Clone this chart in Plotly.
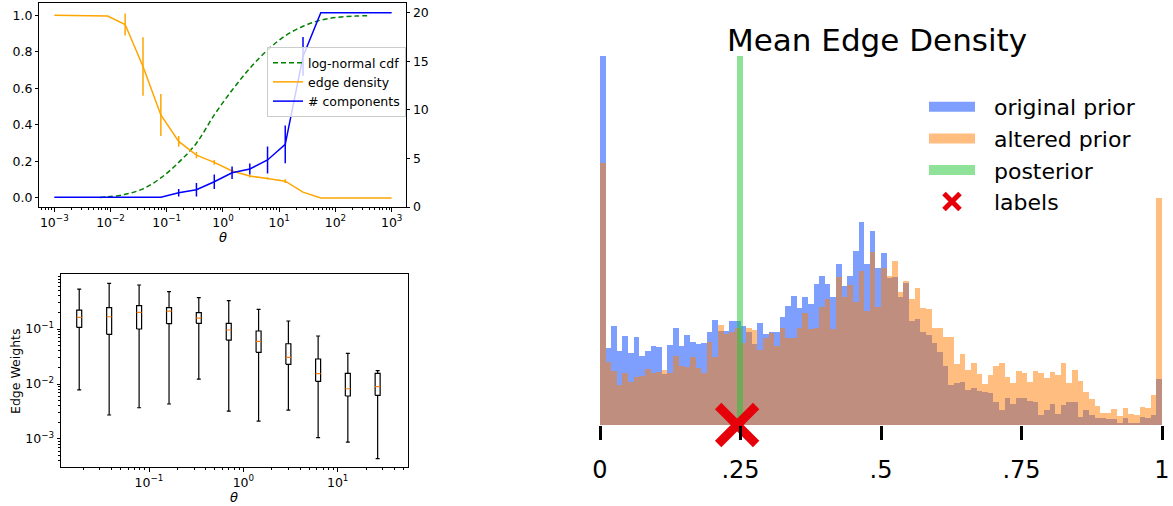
import plotly.graph_objects as go

# ---------------- top-left panel data ----------------
theta = [0.001, 0.0043, 0.0089, 0.0182, 0.0378, 0.0785, 0.163, 0.337, 0.70, 1.45, 3.0, 6.2, 12.8, 26.5, 54.9, 1000]
edge_density = [1.0, 1.0, 0.996, 0.95, 0.72, 0.455, 0.31, 0.235, 0.195, 0.148, 0.12, 0.107, 0.092, 0.032, 0.0, 0.0]
edge_density_err = [0, 0, 0, 0.06, 0.16, 0.115, 0.03, 0.017, 0.013, 0.01, 0.008, 0.006, 0.01, 0, 0, 0]
n_components = [1, 1, 1, 1, 1, 1, 1.47, 1.78, 2.6, 3.53, 3.91, 4.84, 6.45, 15.5, 20, 20]
n_components_err = [0, 0, 0, 0, 0, 0, 0.38, 0.69, 0.74, 0.65, 0.57, 1.4, 1.95, 2.0, 0, 0]
cdf_theta = [0.0065, 0.0089, 0.0182, 0.0378, 0.0785, 0.163, 0.337, 0.70, 1.45, 3.0, 6.2, 12.8, 26.5, 54.9, 113, 230, 420]
cdf_values = [0.003, 0.006, 0.02, 0.05, 0.11, 0.195, 0.30, 0.455, 0.59, 0.71, 0.81, 0.888, 0.94, 0.974, 0.99, 0.996, 0.998]

# ---------------- bottom-left panel data ----------------
box_theta = [0.0182, 0.0378, 0.0785, 0.163, 0.337, 0.70, 1.45, 3.0, 6.2, 12.8, 26.5]
w_low = [0.0078, 0.00273, 0.0037, 0.00433, 0.0123, 0.0032, 0.00212, 0.00336, 0.00106, 0.00088, 0.00044]
w_q1 = [0.107, 0.080, 0.100, 0.125, 0.127, 0.063, 0.0377, 0.0228, 0.0112, 0.00605, 0.00622]
w_med = [0.163, 0.167, 0.201, 0.212, 0.158, 0.096, 0.0597, 0.0305, 0.0154, 0.0082, 0.00896]
w_q3 = [0.221, 0.244, 0.266, 0.244, 0.198, 0.127, 0.092, 0.054, 0.0285, 0.0156, 0.0156]
w_high = [0.533, 0.676, 0.631, 0.477, 0.371, 0.327, 0.228, 0.14, 0.0746, 0.0361, 0.0175]

# ---------------- right panel data (100 bins on [0,1]) ----------------
n_bins = 100
bin_centers = [(i + 0.5) / n_bins for i in range(n_bins)]
original_prior = [369, 76.7, 99, 74.3, 89.5, 72.2, 88.3, 69, 74.3, 79,
                  77.7, 50.7, 80, 97, 79.3, 89.7, 83.3, 81, 81.7, 93.3,
                  105, 94, 94, 104.3, 104, 99, 92.7, 80.7, 102.3, 91,
                  92.7, 92.7, 108.3, 119.3, 129.3, 117.3, 128.3, 120.7, 141, 148.7,
                  141, 128.3, 160.7, 139, 148.7, 174.3, 202.7, 160.7, 194, 157.3,
                  171.7, 147, 147.7, 128.3, 141.7, 104, 105.7, 93.3, 90, 81.7,
                  72.7, 59, 40, 42.3, 43.3, 35, 36.7, 34.3, 33.3, 32.3,
                  22.7, 15, 26.7, 20.7, 26.7, 27, 24.3, 23, 10, 15,
                  21, 11, 20.3, 22.7, 22.7, 8.3, 15, 10, 6.7, 6.7,
                  5.7, 5.7, 2.3, 6.7, 1.7, 1.7, 7.7, 6.7, 10, 45.7]
altered_prior = [262, 63.3, 54, 40, 52.5, 43.3, 48, 49.3, 55.7, 52.3,
                 53, 55, 51.7, 69.3, 59.3, 58.3, 68.3, 57.3, 52.3, 83.3,
                 67.7, 100, 90.7, 92.7, 97, 81.7, 96.7, 95, 75, 87.3,
                 91.7, 79, 97.3, 87.3, 87.3, 97.3, 111.7, 95.7, 97.3, 117.7,
                 126, 95.7, 147.7, 128.3, 140, 123.3, 154, 114, 173.3, 117.7,
                 157.3, 149.5, 164, 133.3, 144.3, 126, 136.7, 116.7, 115.7, 96.7,
                 96.7, 87.7, 87.7, 60.7, 71, 55, 62.3, 50.7, 41, 50,
                 59, 61.7, 48.3, 41.7, 54, 52.5, 42.7, 54, 52.3, 46.7,
                 53, 50, 61.7, 42.3, 55, 44.3, 33.3, 25.7, 19, 11.7,
                 11.7, 15.7, 9, 17.3, 10.7, 10, 18.3, 17.3, 30, 227]
posterior_x = [0.249]
posterior_y = [369]
label_x = [0.244]
label_y = [0]

# tick labels
top_x_ticks = [0.001, 0.01, 0.1, 1, 10, 100, 1000]
top_x_text = ["10<sup>−3</sup>", "10<sup>−2</sup>", "10<sup>−1</sup>", "10<sup>0</sup>",
              "10<sup>1</sup>", "10<sup>2</sup>", "10<sup>3</sup>"]
top_y_ticks = [0.0, 0.2, 0.4, 0.6, 0.8, 1.0]
top_y_text = ["0.0", "0.2", "0.4", "0.6", "0.8", "1.0"]
top_y2_ticks = [0, 5, 10, 15, 20]
bot_x_ticks = [0.1, 1, 10]
bot_x_text = ["10<sup>−1</sup>", "10<sup>0</sup>", "10<sup>1</sup>"]
bot_y_ticks = [0.001, 0.01, 0.1]
bot_y_text = ["10<sup>−3</sup>", "10<sup>−2</sup>", "10<sup>−1</sup>"]
right_x_ticks = [0, 0.25, 0.5, 0.75, 1]
right_x_text = ["0", ".25", ".5", ".75", "1"]

FONT = "DejaVu Sans"
W, H = 1173, 506
BLUE_A = "rgba(0,64,255,0.5)"
ORANGE_A = "rgba(255,125,0,0.5)"
GREEN_A = "rgba(30,200,50,0.5)"
RED = "rgb(230,0,10)"
GAP = "\u00a0\u00a0"  # spacing between legend patch and its text

minor_vals = [k * 10.0 ** e for e in range(-5, 4) for k in range(2, 10)]

fig = go.Figure()

# ---- top-left ----
fig.add_trace(go.Scatter(x=cdf_theta, y=cdf_values, mode="lines", name="log-normal cdf",
                         line=dict(color="green", width=1.5, dash="5px,3px", shape="spline"),
                         xaxis="x", yaxis="y", legend="legend2"))
fig.add_trace(go.Scatter(x=theta, y=edge_density, mode="lines", name="edge density",
                         line=dict(color="orange", width=1.5),
                         error_y=dict(type="data", array=edge_density_err, width=0, thickness=1.5, color="orange"),
                         xaxis="x", yaxis="y", legend="legend2"))
fig.add_trace(go.Scatter(x=theta, y=n_components, mode="lines", name="# components",
                         line=dict(color="blue", width=1.5),
                         error_y=dict(type="data", array=n_components_err, width=0, thickness=1.5, color="blue"),
                         xaxis="x", yaxis="y2", legend="legend2"))

# ---- bottom-left : box plots drawn from quartile arrays ----
f_box = 10 ** 0.0265
f_cap = 10 ** 0.021
bx, by, mx, my = [], [], [], []
for t, lo, q1, md, q3, hi in zip(box_theta, w_low, w_q1, w_med, w_q3, w_high):
    bx += [t / f_box, t * f_box, t * f_box, t / f_box, t / f_box, None]
    by += [q1, q1, q3, q3, q1, None]
    bx += [t, t, None, t, t, None]
    by += [q3, hi, None, q1, lo, None]
    bx += [t / f_cap, t * f_cap, None, t / f_cap, t * f_cap, None]
    by += [hi, hi, None, lo, lo, None]
    mx += [t / f_box, t * f_box, None]
    my += [md, md, None]
fig.add_trace(go.Scatter(x=bx, y=by, mode="lines", line=dict(color="black", width=1.2),
                         showlegend=False, xaxis="x3", yaxis="y3", hoverinfo="skip"))
fig.add_trace(go.Scatter(x=mx, y=my, mode="lines", line=dict(color="#ff7f0e", width=1.2),
                         showlegend=False, xaxis="x3", yaxis="y3", hoverinfo="skip"))

# ---- right : histograms ----
fig.add_trace(go.Bar(x=bin_centers, y=original_prior, width=1 / n_bins, marker=dict(color=BLUE_A, line=dict(width=0)),
                     showlegend=False, xaxis="x4", yaxis="y4"))
fig.add_trace(go.Bar(x=bin_centers, y=altered_prior, width=1 / n_bins, marker=dict(color=ORANGE_A, line=dict(width=0)),
                     showlegend=False, xaxis="x4", yaxis="y4"))
fig.add_trace(go.Bar(x=posterior_x, y=posterior_y, width=0.0118, marker=dict(color=GREEN_A, line=dict(width=0)),
                     showlegend=False, xaxis="x4", yaxis="y4"))
fig.add_trace(go.Scatter(x=label_x, y=label_y, mode="markers", cliponaxis=False,
                         marker=dict(symbol="x-thin", size=38, color=RED, line=dict(width=9, color=RED)),
                         showlegend=False, xaxis="x4", yaxis="y4"))
# legend entries for the right panel
for nm, col in [("original prior", BLUE_A), ("altered prior", ORANGE_A), ("posterior", GREEN_A)]:
    fig.add_trace(go.Scatter(x=[None], y=[None], mode="lines", name=GAP + nm, line=dict(color=col, width=16),
                             xaxis="x4", yaxis="y4", legend="legend"))
fig.add_trace(go.Scatter(x=[None], y=[None], mode="markers", name=GAP + "labels",
                         marker=dict(symbol="x-thin", size=16, color=RED, line=dict(width=5, color=RED)),
                         xaxis="x4", yaxis="y4", legend="legend"))


def px(x):
    return x / W


def py(y):
    return 1 - y / H


axis_common = dict(showgrid=False, zeroline=False, color="black", linecolor="black", automargin=False,
                   tickfont=dict(family=FONT, size=12.5, color="black"))

fig.update_layout(
    template="none",
    width=W, height=H, autosize=False,
    margin=dict(l=0, r=0, t=0, b=0, pad=0, autoexpand=False),
    paper_bgcolor="white", plot_bgcolor="white",
    font=dict(family=FONT, color="black"),
    barmode="overlay", bargap=0,
    xaxis=dict(domain=[px(39.3), px(406)], anchor="y", type="log", range=[-3.267, 3.255],
               tickmode="array", tickvals=top_x_ticks, ticktext=top_x_text,
               ticks="outside", ticklen=3.5, tickwidth=0.8, showline=True, linewidth=0.8, mirror=True,
               minor=dict(ticks="outside", ticklen=2, tickwidth=0.6, tickmode="array", tickvals=minor_vals),
               **axis_common),
    yaxis=dict(domain=[py(207.3), py(3.3)], anchor="x", range=[-0.051, 1.066],
               tickmode="array", tickvals=top_y_ticks, ticktext=top_y_text,
               ticks="outside", ticklen=3.5, tickwidth=0.8, showline=True, linewidth=0.8, mirror=True,
               **axis_common),
    yaxis2=dict(overlaying="y", anchor="x", side="right", range=[-0.03, 20.97],
                tickmode="array", tickvals=top_y2_ticks,
                ticks="outside", ticklen=3.5, tickwidth=0.8, showline=True, linewidth=0.8,
                **axis_common),
    xaxis3=dict(domain=[px(61), px(408)], anchor="y3", type="log", range=[-1.933, 1.745],
                tickmode="array", tickvals=bot_x_ticks, ticktext=bot_x_text,
                ticks="outside", ticklen=3.5, tickwidth=0.8, showline=True, linewidth=0.8, mirror=True,
                minor=dict(ticks="outside", ticklen=2, tickwidth=0.6, tickmode="array", tickvals=minor_vals),
                **axis_common),
    yaxis3=dict(domain=[py(467.3), py(274.3)], anchor="x3", type="log", range=[-3.515, -0.005],
                tickmode="array", tickvals=bot_y_ticks, ticktext=bot_y_text,
                ticks="outside", ticklen=3.5, tickwidth=0.8, showline=True, linewidth=0.8, mirror=True,
                minor=dict(ticks="outside", ticklen=2, tickwidth=0.6, tickmode="array", tickvals=minor_vals),
                **axis_common),
    xaxis4=dict(domain=[px(600), px(1162)], anchor="y4", range=[0, 1],
                tickmode="array", tickvals=right_x_ticks, ticktext=right_x_text,
                ticks="outside", ticklen=14, tickwidth=3, tickcolor="black", showline=False,
                showgrid=False, zeroline=False, automargin=False, ticklabelstandoff=9,
                tickfont=dict(family=FONT, size=24, color="black")),
    yaxis4=dict(domain=[py(425), py(40)], anchor="x4", range=[0, 385], automargin=False,
                showticklabels=False, ticks="", showline=False, showgrid=False, zeroline=False),
    legend=dict(x=px(924), y=py(86), xanchor="left", yanchor="top",
                font=dict(family=FONT, size=22, color="black"),
                bgcolor="rgba(0,0,0,0)", borderwidth=0, itemwidth=46, tracegroupgap=0),
    legend2=dict(x=px(267), y=py(47), xanchor="left", yanchor="top",
                 font=dict(family=FONT, size=12.5, color="black"),
                 bgcolor="rgba(255,255,255,0.8)", bordercolor="#cccccc", borderwidth=1, itemwidth=30),
    annotations=[
        dict(text="Mean Edge Density", x=px(877), y=py(40), xref="paper", yref="paper",
             showarrow=False, xanchor="center", yanchor="middle",
             font=dict(family=FONT, size=31, color="black")),
        dict(text="<i>θ</i>", x=px(223), y=py(238), xref="paper", yref="paper",
             showarrow=False, xanchor="center", yanchor="middle",
             font=dict(family=FONT, size=13, color="black")),
        dict(text="<i>θ</i>", x=px(234), y=py(497), xref="paper", yref="paper",
             showarrow=False, xanchor="center", yanchor="middle",
             font=dict(family=FONT, size=13, color="black")),
        dict(text="Edge Weights", x=px(15), y=py(371), xref="paper", yref="paper",
             showarrow=False, xanchor="center", yanchor="middle", textangle=-90,
             font=dict(family=FONT, size=12.5, color="black")),
    ],
)

fig.write_html("out.html", config={"responsive": False, "displayModeBar": False},
               post_script="document.body.style.margin='0px';document.body.style.overflow='hidden';")
